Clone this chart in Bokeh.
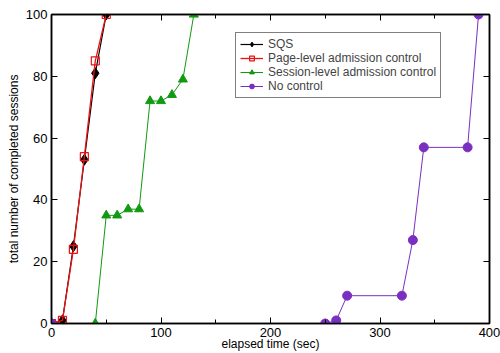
from bokeh.plotting import figure
from bokeh.models import Range1d, LinearAxis, FixedTicker, Legend, LegendItem
from bokeh.embed import file_html
from bokeh.resources import INLINE

# Data
sqs_x = [0, 10, 20, 30, 40, 50]
sqs_y = [0, 1, 25, 53, 81, 100]
page_x = [0, 10, 20, 30, 40, 50]
page_y = [0, 1, 24, 54, 85, 100]
sess_x = [40, 50, 60, 70, 80, 90, 100, 110, 120, 130]
sess_y = [0, 35, 35, 37, 37, 72, 72, 74, 79, 100]
noc_x = [0, 250, 260, 270, 320, 330, 340, 380, 390]
noc_y = [0, 0, 1, 9, 9, 27, 57, 57, 100]
x_ticks = [0, 100, 200, 300, 400]
x_minor = [50, 150, 250, 350]
y_ticks = [0, 20, 40, 60, 80, 100]

FONT = "Liberation Sans"

p = figure(width=500, height=353, output_backend="svg", toolbar_location=None,
           x_range=Range1d(0, 400), y_range=Range1d(0, 100),
           min_border_left=51, min_border_right=11, min_border_top=14, min_border_bottom=30)
p.background_fill_color = "white"
p.border_fill_color = "white"
p.outline_line_color = "black"
p.outline_line_width = 1.5
p.xgrid.visible = False
p.ygrid.visible = False


def style_axis(ax, ticks, minor=None, labels=True):
    ax.ticker = FixedTicker(ticks=ticks, minor_ticks=minor or [])
    ax.major_tick_in = 6
    ax.major_tick_out = 0
    ax.minor_tick_in = 4
    ax.minor_tick_out = 0
    ax.axis_line_color = "black"
    ax.axis_line_width = 1.5
    ax.major_tick_line_color = "black"
    ax.minor_tick_line_color = "black"
    ax.major_label_text_font = FONT
    ax.major_label_text_font_size = "13px"
    ax.major_label_text_color = "black"
    ax.axis_label_text_font = FONT
    ax.axis_label_text_font_size = "12px"
    ax.axis_label_text_font_style = "normal"
    ax.axis_label_text_color = "black"
    if not labels:
        ax.major_label_overrides = {t: "" for t in ticks}
        ax.major_label_standoff = 0


style_axis(p.xaxis[0], x_ticks, x_minor)
p.xaxis[0].axis_label = "elapsed time (sec)"
p.xaxis[0].major_label_standoff = 4
p.xaxis[0].axis_label_standoff = -3
style_axis(p.yaxis[0], y_ticks)
p.yaxis[0].axis_label = "total number of completed sessions"
p.yaxis[0].major_label_standoff = 4
p.yaxis[0].axis_label_standoff = 2

top = LinearAxis()
style_axis(top, x_ticks, x_minor, labels=False)
p.add_layout(top, "above")
right = LinearAxis()
style_axis(right, y_ticks, labels=False)
p.add_layout(right, "right")

l1 = p.line(sqs_x, sqs_y, line_color="black", line_width=1.2)
m1 = p.scatter(sqs_x, sqs_y, marker="diamond", size=11, fill_color="black", line_color="black")
l2 = p.line(page_x, page_y, line_color="#ee1111", line_width=1.3)
m2 = p.scatter(page_x, page_y, marker="square", size=8, fill_color=None, line_color="#ee1111", line_width=1.2)
l3 = p.line(sess_x, sess_y, line_color="#119911", line_width=1)
m3 = p.scatter(sess_x, sess_y, marker="triangle", size=9, fill_color="#119911", line_color="#119911")
l4 = p.line(noc_x, noc_y, line_color="#7a2fc0", line_width=1)
m4 = p.scatter(noc_x, noc_y, marker="circle", size=9, fill_color="#7a2fc0", line_color="#7a2fc0")

legend = Legend(items=[
    LegendItem(label="SQS", renderers=[l1, m1]),
    LegendItem(label="Page-level admission control", renderers=[l2, m2]),
    LegendItem(label="Session-level admission control", renderers=[l3, m3]),
    LegendItem(label="No control", renderers=[l4, m4]),
], location=(184, 225))
legend.label_text_font = FONT
legend.label_text_font_size = "12px"
legend.label_height = 12
legend.glyph_height = 12
legend.glyph_width = 23
legend.spacing = 0
legend.padding = 4
legend.margin = 0
legend.label_standoff = 5
legend.border_line_color = "black"
legend.border_line_width = 1
legend.background_fill_alpha = 1
p.add_layout(legend)

open("out.html", "w").write(file_html(p, INLINE))
